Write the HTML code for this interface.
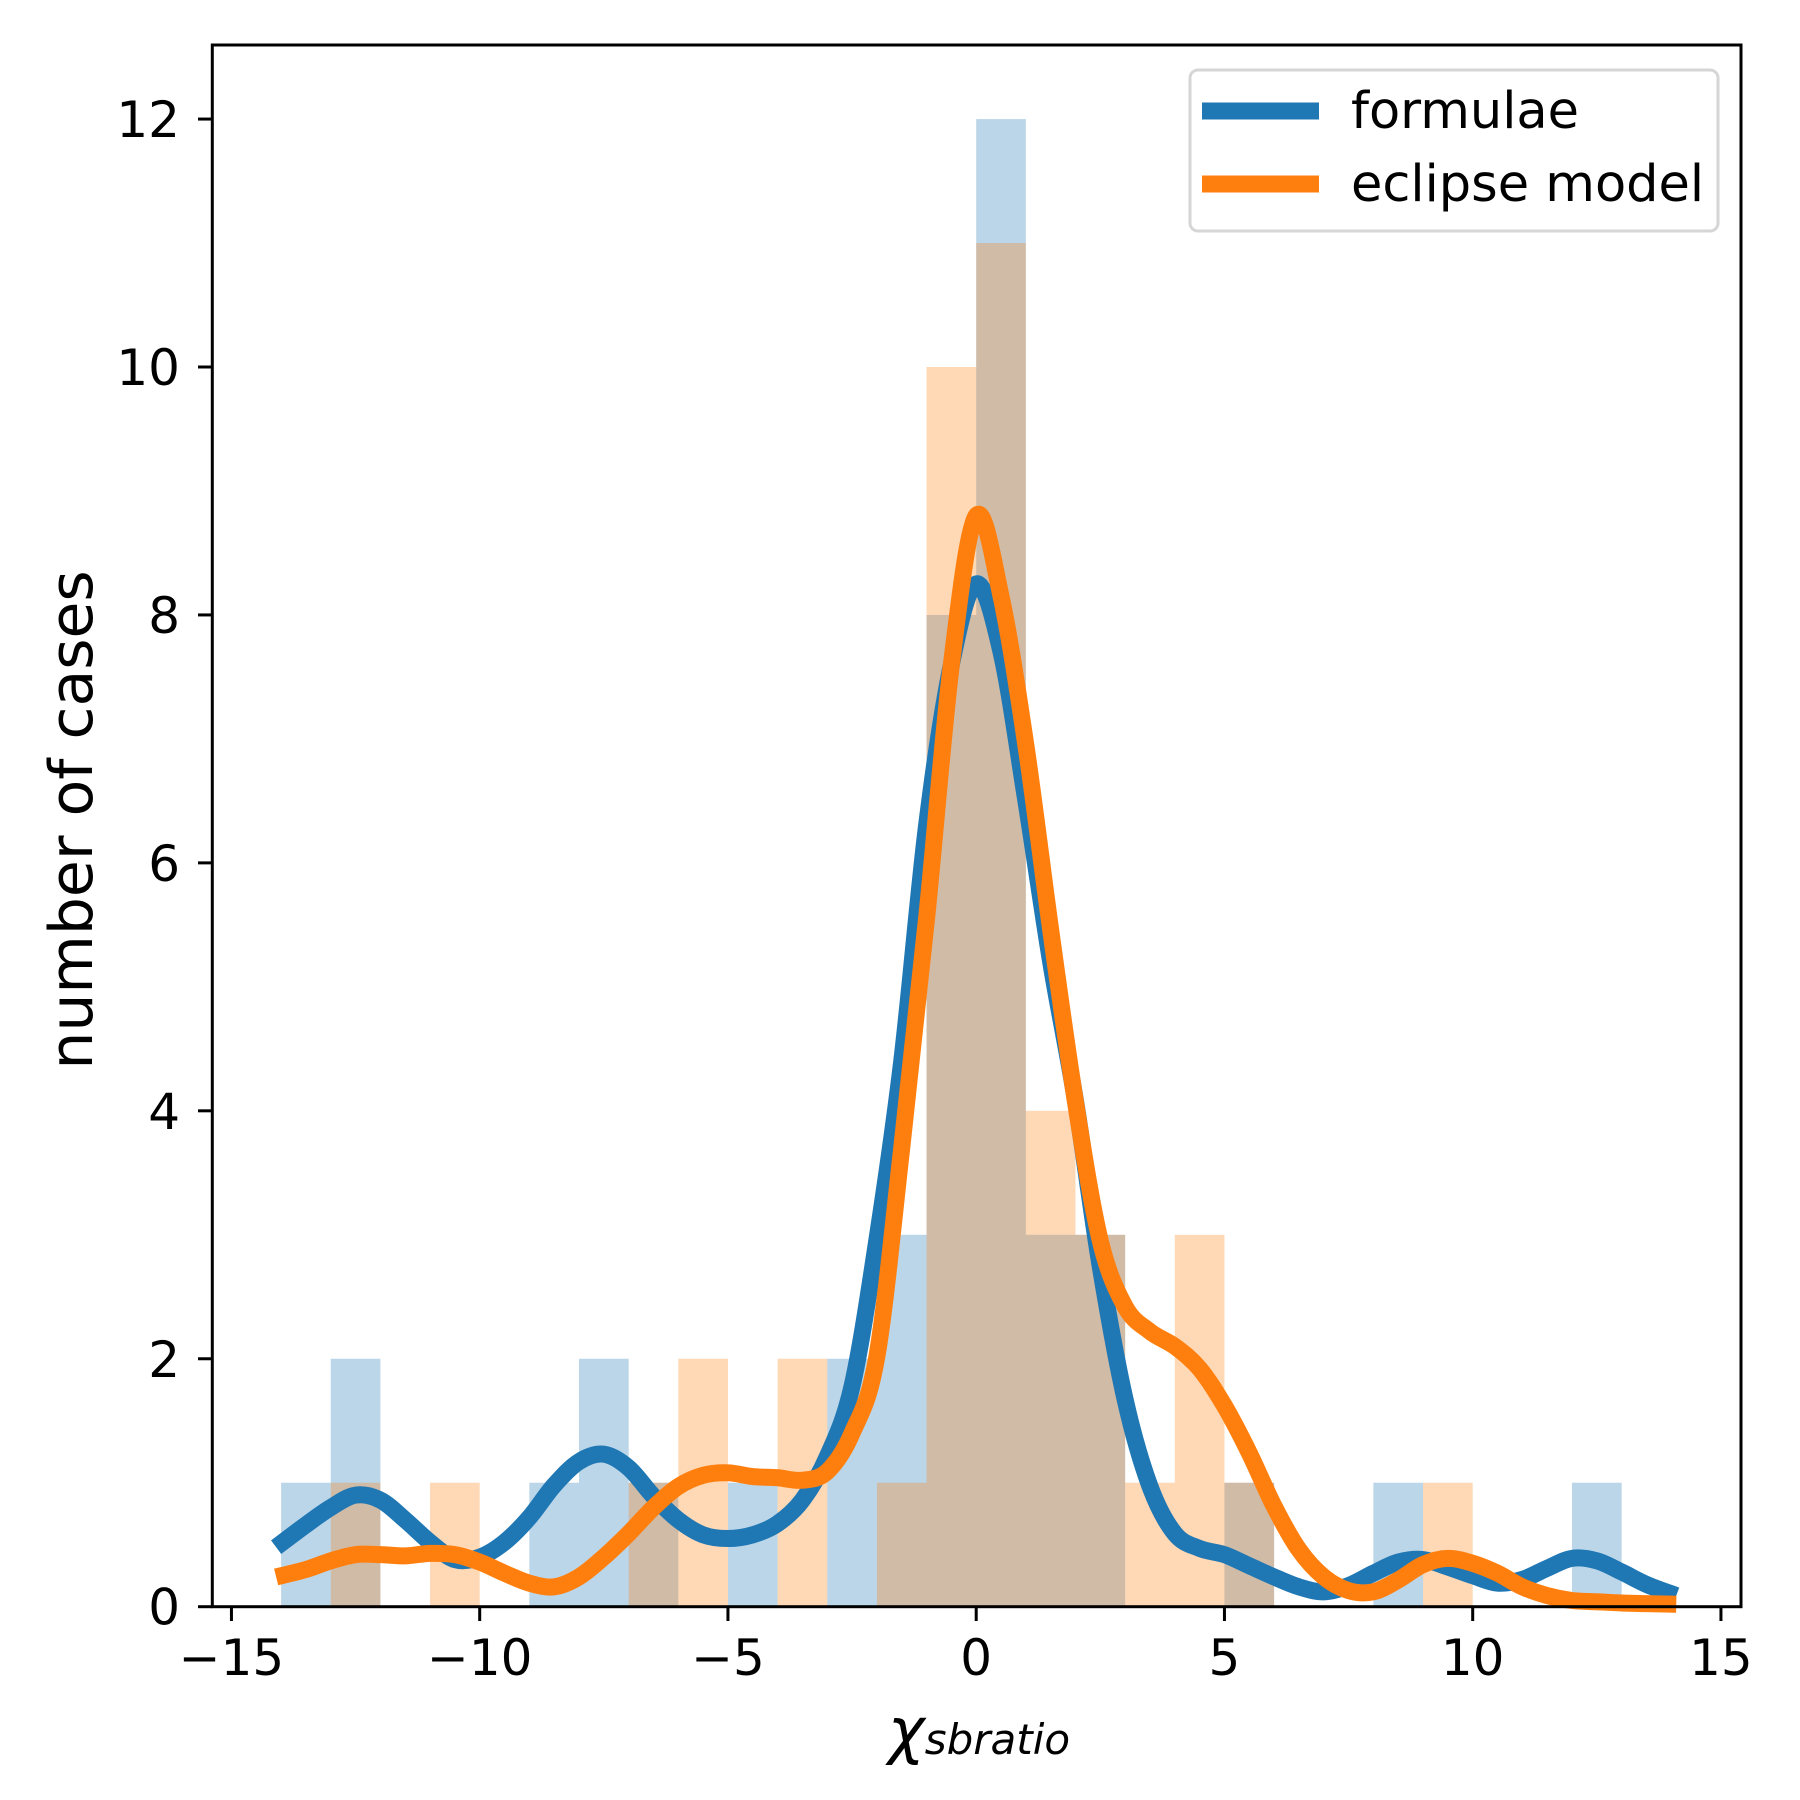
<!DOCTYPE html>
<html><head><meta charset="utf-8"><style>
html,body{margin:0;padding:0;background:#fff;}
svg{display:block;font-family:"DejaVu Sans","Liberation Sans",sans-serif;}
</style></head><body>
<svg id="chart" width="1800" height="1800" viewBox="0 0 1800 1800">
<rect x="0" y="0" width="1800" height="1800" fill="#fff"/>
<g id="bars"></g>
<g id="curves"></g>
<rect x="212.3" y="45" width="1528.7" height="1561.7" fill="none" stroke="#000" stroke-width="3"/>
<g id="xticks"></g>
<g id="yticks"></g>
<text x="72" y="820" font-size="60" text-anchor="middle" dominant-baseline="central" transform="rotate(-90 72 820)">number of cases</text>
<text x="888" y="1752" font-size="62" font-style="italic">χ<tspan font-size="42" dy="2">sbratio</tspan></text>
<g>
<rect x="1190" y="70" width="528" height="161" rx="8" fill="#fff" fill-opacity="0.8" stroke="#d6d6d6" stroke-width="3"/>
<line x1="1202" y1="111" x2="1319" y2="111" stroke="#1f77b4" stroke-width="17"/>
<text x="1351" y="128" font-size="51">formulae</text>
<line x1="1202" y1="184" x2="1319" y2="184" stroke="#ff7f0e" stroke-width="17"/>
<text x="1351" y="201" font-size="51">eclipse model</text>
</g>
</svg>
<script>
const binStarts = [-14,-13,-12,-11,-10,-9,-8,-7,-6,-5,-4,-3,-2,-1,0,1,2,3,4,5,6,7,8,9,10,11,12,13];
const formulaeCounts = [1,2,0,0,0,1,2,1,0,1,0,2,3,8,12,3,3,0,0,1,0,0,1,0,0,0,1,0];
const eclipseCounts  = [0,1,0,1,0,0,0,1,2,0,2,0,1,10,11,4,3,1,3,1,0,0,0,1,0,0,0,0];
const curveX = [-14.1,-13.5,-13,-12.5,-12,-11.5,-11,-10.5,-10,-9.5,-9,-8.5,-8,-7.5,-7,-6.5,-6,-5.5,-5,-4.5,-4,-3.5,-3,-2.5,-2,-1.5,-1,-0.5,0,0.5,1,1.5,2,2.5,3,3.5,4,4.5,5,5.5,6,6.5,7,7.5,8,8.5,9,9.5,10,10.5,11,11.5,12,12.5,13,13.5,14.1];
const formulaeKde = [0.48,0.66,0.8,0.9,0.86,0.7,0.52,0.38,0.4,0.52,0.72,0.98,1.17,1.23,1.12,0.89,0.7,0.58,0.55,0.58,0.67,0.86,1.21,1.78,2.96,4.4,6.3,7.6,8.25,7.7,6.5,5.2,4.08,2.74,1.67,0.97,0.59,0.47,0.42,0.33,0.24,0.16,0.12,0.17,0.27,0.36,0.38,0.32,0.25,0.19,0.22,0.31,0.39,0.37,0.28,0.18,0.09];
const eclipseKde = [0.24,0.3,0.37,0.42,0.42,0.41,0.43,0.42,0.36,0.27,0.19,0.16,0.24,0.4,0.59,0.8,0.97,1.06,1.08,1.05,1.04,1.02,1.09,1.4,2.02,3.7,5.55,7.6,8.8,8.15,6.95,5.46,4.07,2.95,2.42,2.22,2.1,1.92,1.62,1.24,0.81,0.46,0.24,0.13,0.12,0.215,0.34,0.39,0.35,0.27,0.16,0.09,0.05,0.04,0.03,0.025,0.02];
const xTickVals = [-15,-10,-5,0,5,10,15];
const xTickLabels = ["\u221215","\u221210","\u22125","0","5","10","15"];
const yTickVals = [0,2,4,6,8,10,12];
const yTickLabels = ["0","2","4","6","8","10","12"];

const NS="http://www.w3.org/2000/svg";
const X0=976.2, XS=49.65, Y0=1606.7, YS=123.97;
function sx(v){return X0+v*XS;}
function sy(v){return Y0-v*YS;}
function mk(tag,attrs,parent){const e=document.createElementNS(NS,tag);for(const k in attrs)e.setAttribute(k,attrs[k]);parent.appendChild(e);return e;}

const bars=document.getElementById('bars');
function drawHist(counts,color,nm){
  counts.forEach((c,i)=>{
    if(c<=0)return;
    const r=mk('rect',{x:sx(binStarts[i]),y:sy(c),width:sx(binStarts[i]+1)-sx(binStarts[i]),height:sy(0)-sy(c),fill:color,'fill-opacity':0.3},bars);
    
    
  });
}
drawHist(formulaeCounts,'#1f77b4','bar-formulae');
drawHist(eclipseCounts,'#ff7f0e','bar-eclipse-model');

const curves=document.getElementById('curves');
function smoothPath(xs,ys){
  const p=xs.map((x,i)=>[sx(x),sy(ys[i])]);
  let d='M'+p[0][0]+','+p[0][1];
  for(let i=0;i<p.length-1;i++){
    const p0=p[Math.max(0,i-1)],p1=p[i],p2=p[i+1],p3=p[Math.min(p.length-1,i+2)];
    const c1=[p1[0]+(p2[0]-p0[0])/6,p1[1]+(p2[1]-p0[1])/6];
    const c2=[p2[0]-(p3[0]-p1[0])/6,p2[1]-(p3[1]-p1[1])/6];
    d+=' C'+c1[0]+','+c1[1]+' '+c2[0]+','+c2[1]+' '+p2[0]+','+p2[1];
  }
  return d;
}
const l1=mk('path',{d:smoothPath(curveX,formulaeKde),fill:'none',stroke:'#1f77b4','stroke-width':17,'stroke-linejoin':'round'},curves);


const l2=mk('path',{d:smoothPath(curveX,eclipseKde),fill:'none',stroke:'#ff7f0e','stroke-width':17,'stroke-linejoin':'round'},curves);



const xt=document.getElementById('xticks');
xTickVals.forEach((v,i)=>{
  const t=mk('line',{x1:sx(v),x2:sx(v),y1:1606.7,y2:1621,stroke:'#000','stroke-width':3},xt);
  
  
  const l=mk('text',{x:sx(v),y:1675,'font-size':50,'text-anchor':'middle'},xt);
  l.textContent=xTickLabels[i];
  
  
});
const yt=document.getElementById('yticks');
yTickVals.forEach((v,i)=>{
  const t=mk('line',{x1:198,x2:212.3,y1:sy(v),y2:sy(v),stroke:'#000','stroke-width':3},yt);
  
  
  const l=mk('text',{x:180,y:sy(v)+18,'font-size':50,'text-anchor':'end'},yt);
  l.textContent=yTickLabels[i];
  
  
});
</script>
</body></html>
